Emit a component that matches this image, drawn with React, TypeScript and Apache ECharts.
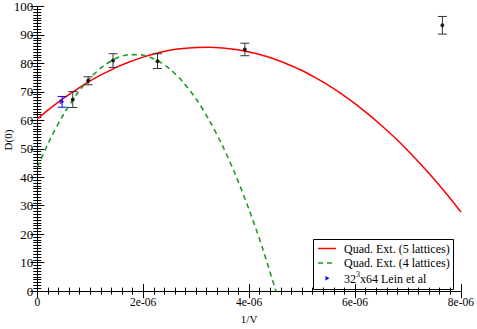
import React, { useEffect, useRef } from "react";
import * as echarts from "echarts";

// x values are in units of 1e-6 (1/V)
const redX = [0, 0.25, 0.5, 0.75, 1, 1.25, 1.5, 1.75, 2, 2.25, 2.5, 2.75, 3, 3.25, 3.5, 3.75, 4, 4.25, 4.5, 4.75, 5, 5.25, 5.5, 5.75, 6, 6.25, 6.5, 6.75, 7, 7.25, 7.5, 7.75, 8];
const redY = [60.5, 64.3, 67.8, 71.0, 73.9, 76.4, 78.7, 80.6, 82.2, 83.55, 84.6, 85.25, 85.6, 85.7, 85.45, 84.9, 84.0, 82.85, 81.4, 79.55, 77.5, 75.0, 72.3, 69.25, 65.9, 62.2, 58.2, 53.95, 49.3, 44.4, 39.2, 33.65, 27.8];

const greenX = [0, 0.25, 0.5, 0.75, 1, 1.25, 1.5, 1.75, 2, 2.25, 2.5, 2.75, 3, 3.25, 3.5, 3.75, 4, 4.25, 4.5, 4.51];
const greenY = [43.6, 53.6, 62.2, 69.3, 74.9, 79.1, 81.9, 83.1, 82.9, 81.2, 78.1, 73.5, 67.5, 59.9, 51.0, 40.5, 28.6, 15.3, 0.4, 0];

const latticeX = [0.67, 0.96, 1.43, 2.27, 3.92, 7.65];
const latticeY = [67.3, 73.9, 81.0, 80.8, 84.9, 93.4];
const latticeErr = [2.8, 1.4, 2.4, 2.6, 2.2, 3.1];

const leinX = [0.47];
const leinY = [66.5];
const leinErr = [1.9];

const seriesNames = ["Quad. Ext. (5 lattices)", "Quad. Ext. (4 lattices)", "32{sup|3}x64 Lein et al"];

const FONT = "'Liberation Serif', 'Times New Roman', serif";

function errorBarSeries(xs: number[], ys: number[], errs: number[], color: string) {
  return {
    type: "custom",
    xAxisIndex: 0,
    yAxisIndex: 0,
    z: 3,
    data: xs.map((x, i) => [x, ys[i] - errs[i], ys[i] + errs[i]]),
    renderItem: (params: any, api: any) => {
      const lo = api.coord([api.value(0), api.value(1)]);
      const hi = api.coord([api.value(0), api.value(2)]);
      const hw = 4.5;
      const st = { stroke: color, lineWidth: 1 };
      return {
        type: "group",
        children: [
          { type: "line", shape: { x1: lo[0], y1: lo[1], x2: hi[0], y2: hi[1] }, style: st },
          { type: "line", shape: { x1: lo[0] - hw, y1: lo[1], x2: lo[0] + hw, y2: lo[1] }, style: st },
          { type: "line", shape: { x1: hi[0] - hw, y1: hi[1], x2: hi[0] + hw, y2: hi[1] }, style: st },
        ],
      };
    },
  };
}

export default function App() {
  const ref = useRef<HTMLDivElement>(null);
  useEffect(() => {
    document.body.style.margin = "0";
    const chart = echarts.init(ref.current!, null, { renderer: "svg" });
    const axisLine = { show: true, lineStyle: { color: "#000", width: 1 } };
    const xCommon = {
      type: "value",
      min: 0,
      max: 8,
      interval: 2,
      axisLine,
      axisTick: { show: true, inside: true, length: 7, lineStyle: { color: "#000" } },
      minorTick: { show: true, splitNumber: 10, length: 3.5, lineStyle: { color: "#000" } },
      splitLine: { show: false },
    };
    const yCommon = {
      type: "value",
      min: 0,
      max: 100,
      interval: 10,
      axisLine,
      axisTick: { show: true, inside: true, length: 7, lineStyle: { color: "#000" } },
      minorTick: { show: true, splitNumber: 10, length: 4, lineStyle: { color: "#000" } },
      splitLine: { show: false },
    };
    chart.setOption({
      animation: false,
      backgroundColor: "#fff",
      textStyle: { fontFamily: FONT },
      grid: { left: 37.3, right: 15.7, top: 5.4, bottom: 27.3 },
      xAxis: [
        {
          ...xCommon,
          position: "bottom",
          name: "1/V",
          nameLocation: "middle",
          nameGap: 16,
          nameTextStyle: { fontFamily: FONT, fontSize: 11, color: "#000" },
          axisLabel: {
            show: true,
            margin: 5,
            fontFamily: FONT,
            fontSize: 11.5,
            color: "#000",
            formatter: (v: number) => (v === 0 ? "0" : `${v}e-06`),
          },
        },
        { ...xCommon, position: "top", axisLabel: { show: false } },
      ],
      yAxis: [
        {
          ...yCommon,
          position: "left",
          axisLabel: { show: true, margin: 4, fontFamily: FONT, fontSize: 13, color: "#000" },
        },
        { ...yCommon, position: "right", axisLabel: { show: false } },
      ],
      series: [
        {
          name: seriesNames[0],
          type: "line",
          data: redX.map((x, i) => [x, redY[i]]),
          smooth: 0.3,
          showSymbol: false,
          lineStyle: { color: "#ff0000", width: 1.5 },
          z: 2,
        },
        {
          name: seriesNames[1],
          type: "line",
          data: greenX.map((x, i) => [x, greenY[i]]),
          smooth: 0.3,
          showSymbol: false,
          lineStyle: { color: "#1f9a1f", width: 1.6, type: [5, 4] },
          z: 2,
        },
        errorBarSeries(latticeX, latticeY, latticeErr, "#333"),
        {
          type: "scatter",
          data: latticeX.map((x, i) => [x, latticeY[i]]),
          symbol: "circle",
          symbolSize: 4,
          itemStyle: { color: "#000" },
          z: 4,
        },
        errorBarSeries(leinX, leinY, leinErr, "#0000ff"),
        {
          name: seriesNames[2],
          type: "scatter",
          data: leinX.map((x, i) => [x, leinY[i]]),
          symbol: "triangle",
          symbolRotate: -90,
          symbolSize: 5,
          itemStyle: { color: "#0000ff" },
          z: 4,
        },
      ],
      graphic: [
        {
          type: "text",
          x: 8,
          y: 140,
          rotation: Math.PI / 2,
          style: { text: "D(0)", fontFamily: FONT, fontSize: 11, fill: "#000", align: "center", verticalAlign: "middle" },
        },
        {
          type: "group",
          z: 100,
          children: [
            {
              type: "rect",
              shape: { x: 313.5, y: 239.5, width: 140, height: 50 },
              style: { fill: "#fff", stroke: "#000", lineWidth: 1 },
            },
            {
              type: "line",
              shape: { x1: 318, y1: 248.5, x2: 336, y2: 248.5 },
              style: { stroke: "#ff0000", lineWidth: 1.5 },
            },
            {
              type: "line",
              shape: { x1: 318, y1: 263, x2: 336, y2: 263 },
              style: { stroke: "#1f9a1f", lineWidth: 1.6, lineDash: [5, 4] },
            },
            {
              type: "polygon",
              shape: { points: [[325.5, 276], [329.5, 278.3], [325.5, 280.6]] },
              style: { fill: "#0000ff" },
            },
            {
              type: "text",
              x: 344,
              y: 248.5,
              style: { text: seriesNames[0], fontFamily: FONT, fontSize: 12, fill: "#000", verticalAlign: "middle" },
            },
            {
              type: "text",
              x: 344,
              y: 263,
              style: { text: seriesNames[1], fontFamily: FONT, fontSize: 12, fill: "#000", verticalAlign: "middle" },
            },
            {
              type: "text",
              x: 344,
              y: 278.5,
              style: {
                text: seriesNames[2],
                fontFamily: FONT,
                fontSize: 12,
                fill: "#000",
                verticalAlign: "middle",
                rich: { sup: { fontFamily: FONT, fontSize: 8, fill: "#000", padding: [0, 0, 8, 0] } },
              },
            },
          ],
        },
      ],
    });
    return () => chart.dispose();
  }, []);
  return <div ref={ref} style={{ width: 477, height: 329, background: "#fff" }} />;
}
